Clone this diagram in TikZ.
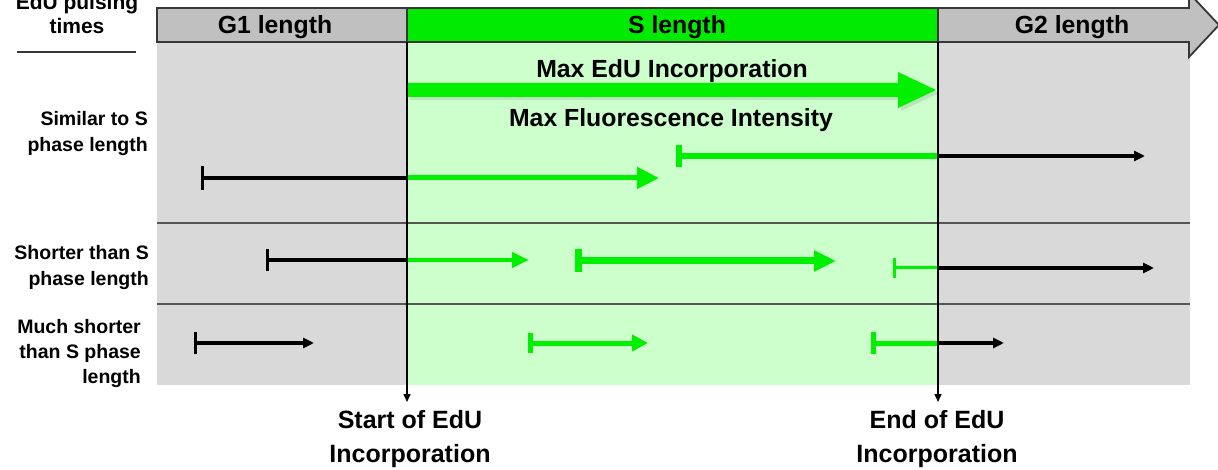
\documentclass[tikz,border=0pt]{standalone}
\usepackage{fontspec}
\setmainfont{Liberation Sans}
\usetikzlibrary{arrows.meta}
\definecolor{hdrgray}{RGB}{192,192,192}
\definecolor{bodygray}{RGB}{217,217,217}
\definecolor{hdrgreen}{RGB}{0,235,0}
\definecolor{lightgreen}{RGB}{204,255,204}
\definecolor{edgec}{RGB}{55,55,55}
\definecolor{arrgreen}{RGB}{0,240,0}
\definecolor{divc}{RGB}{85,85,85}
\newcommand\hdrfont{\fontsize{24.8}{28}\selectfont\bfseries}
\newcommand\lblfont{\fontsize{19.5}{26}\selectfont\bfseries}
\newcommand\lblfontb{\fontsize{19.5}{25}\selectfont\bfseries}
\newcommand\botfont{\fontsize{25}{34}\selectfont\bfseries}
\newcommand\pulsefont{\fontsize{21}{24}\selectfont\bfseries}
\begin{document}
\begin{tikzpicture}[x=1pt,y=-1pt,
  every node/.style={inner sep=0pt},
  hdrbox/.style={draw=edgec, line width=1.8pt, line join=miter},
  divline/.style={draw=divc, line width=2pt},
  vline/.style={draw=black, line width=1.5pt, -{Triangle[length=8pt,width=7pt]}},
  blk/.style={draw=black, line width=3.2pt},
  grn/.style={draw=arrgreen},
  blkhead/.style={-{Triangle[length=11pt,width=10pt]}}
]
\useasboundingbox (0,0) rectangle (1218,470);
% body backgrounds
\fill[bodygray] (157,42) rectangle (1190,385);
\fill[lightgreen] (407,42) rectangle (938,385);
\draw[divline] (157,223) -- (1190,223);
\draw[divline] (157,304) -- (1190,304);
% header arrow
\filldraw[hdrbox, fill=hdrgray] (157,8) -- (1189,8) -- (1189,-7) -- (1219,25) -- (1189,57) -- (1189,42) -- (157,42) -- cycle;
\filldraw[hdrbox, fill=hdrgreen] (407,8) rectangle (938,42);
\node[anchor=base, font=\hdrfont] (g1) at (275,33.5) {G1 length};
\node[anchor=base, font=\hdrfont] (slen) at (677,33.5) {S length};
\node[anchor=base, font=\hdrfont] (g2) at (1072,33.5) {G2 length};
% pulsing times label
\node[align=center, font=\pulsefont] (pulse) at (77,14) {EdU pulsing\\times};
\coordinate (pl1) at (17,52);
\coordinate (pl2) at (136,52);
\draw[edgec, line width=1.5pt] (pl1) -- (pl2);
% left labels
\node[anchor=east, align=right, font=\lblfont] (lab1) at (148,134) {Similar to S\\phase length};
\node[anchor=east, align=right, font=\lblfont] (lab2) at (149,268) {Shorter than S\\phase length};
\node[anchor=east, align=right, font=\lblfontb] (lab3) at (141,354) {Much shorter\\than S phase\\length};
% big arrow
\fill[black, opacity=0.10] (410,86) -- (901,86) -- (901,75) -- (939,93) -- (901,111) -- (901,100) -- (410,100) -- cycle;
\fill[arrgreen] (407,83) -- (898,83) -- (898,72) -- (936,90) -- (898,108) -- (898,97) -- (407,97) -- cycle;
\node[anchor=base, font=\hdrfont] (maxedu) at (672,78) {Max EdU Incorporation};
\node[anchor=base, font=\hdrfont] (maxfl) at (671,126.5) {Max Fluorescence Intensity};
% row 1
\coordinate (r1a) at (201,178);
\coordinate (r1b) at (407,178);
\coordinate (r1c) at (659,178);
\coordinate (r1d) at (676,156);
\coordinate (r1e) at (938,156);
\coordinate (r1f) at (1145,156);
\draw[blk, {Bar[width=24pt]}-] (r1a) -- (r1b);
\draw[grn, line width=5pt, -{Triangle[length=22pt,width=21pt]}] (r1b) -- (r1c);
\draw[grn, line width=6pt, {Bar[width=22pt]}-] (r1d) -- (r1e);
\draw[blk, blkhead] (r1e) -- (r1f);
% row 2
\coordinate (r2a) at (266,260);
\coordinate (r2b) at (407,260);
\coordinate (r2c) at (529,260);
\coordinate (r2d) at (575,261);
\coordinate (r2e) at (836,261);
\coordinate (r2f) at (893,268);
\coordinate (r2g) at (938,268);
\coordinate (r2h) at (1154,268);
\draw[blk, {Bar[width=22pt]}-] (r2a) -- (r2b);
\draw[grn, line width=4.5pt, -{Triangle[length=17pt,width=15pt]}] (r2b) -- (r2c);
\draw[grn, line width=7pt, {Bar[width=23pt]}-{Triangle[length=22pt,width=20pt]}] (r2d) -- (r2e);
\draw[grn, line width=3pt, {Bar[width=20pt]}-] (r2f) -- (r2g);
\draw[blk, blkhead] (r2g) -- (r2h);
% row 3
\coordinate (r3a) at (194,343);
\coordinate (r3b) at (314,343);
\coordinate (r3c) at (528,343);
\coordinate (r3d) at (648,343);
\coordinate (r3e) at (871,343);
\coordinate (r3f) at (938,343);
\coordinate (r3g) at (1004,343);
\draw[blk, {Bar[width=22pt]}-{Triangle[length=11pt,width=10pt]}] (r3a) -- (r3b);
\draw[grn, line width=5pt, {Bar[width=20pt]}-{Triangle[length=16pt,width=16pt]}] (r3c) -- (r3d);
\draw[grn, line width=5pt, {Bar[width=22pt]}-] (r3e) -- (r3f);
\draw[blk, blkhead] (r3f) -- (r3g);
% bottom labels and vertical markers
\node[align=center, font=\botfont] (startl) at (410,439) {Start of EdU\\Incorporation};
\node[align=center, font=\botfont] (endl) at (937,439) {End of EdU\\Incorporation};
\coordinate (sTop) at (407,42);
\coordinate (sBot) at (407,402);
\coordinate (eTop) at (938,42);
\coordinate (eBot) at (938,402);
\draw[vline] (sTop) -- (sBot);
\draw[vline] (eTop) -- (eBot);
\end{tikzpicture}
\end{document}
